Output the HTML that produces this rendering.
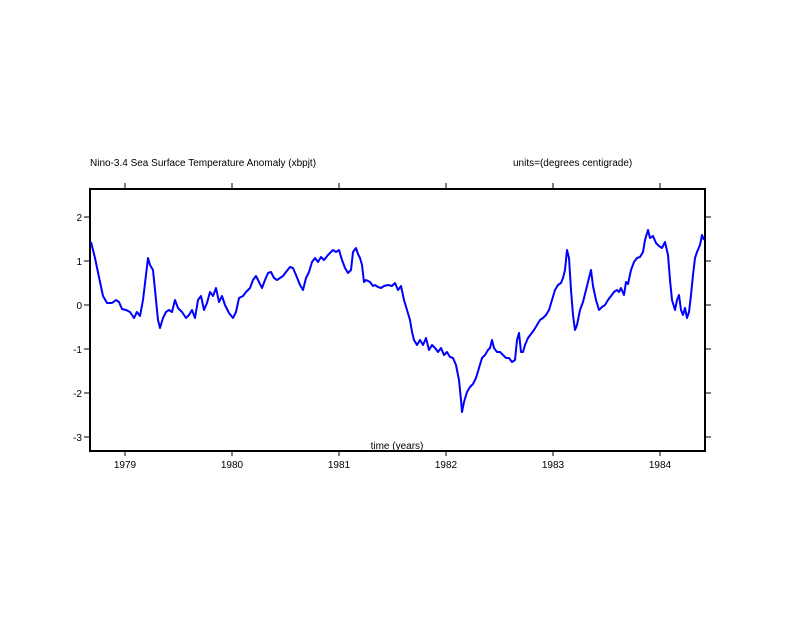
<!DOCTYPE html>
<html><head><meta charset="utf-8"><style>
body{margin:0;background:#fff;}
svg text{font-family:"Liberation Sans",sans-serif;font-size:10px;fill:#000;}
</style></head><body>
<svg width="792" height="612" viewBox="0 0 792 612" xmlns="http://www.w3.org/2000/svg">
<rect width="792" height="612" fill="#fff"/>
<text x="90" y="166">Nino-3.4 Sea Surface Temperature Anomaly (xbpjt)</text>
<text x="513" y="166">units=(degrees centigrade)</text>
<g stroke="#000" stroke-width="1">
<line x1="125" y1="183" x2="125" y2="189"/><line x1="232" y1="183" x2="232" y2="189"/>
<line x1="339" y1="183" x2="339" y2="189"/><line x1="446" y1="183" x2="446" y2="189"/>
<line x1="553" y1="183" x2="553" y2="189"/><line x1="660" y1="183" x2="660" y2="189"/>
<line x1="125" y1="451" x2="125" y2="456"/><line x1="232" y1="451" x2="232" y2="456"/>
<line x1="339" y1="451" x2="339" y2="456"/><line x1="446" y1="451" x2="446" y2="456"/>
<line x1="553" y1="451" x2="553" y2="456"/><line x1="660" y1="451" x2="660" y2="456"/>
<line x1="84" y1="217" x2="90" y2="217"/><line x1="84" y1="261" x2="90" y2="261"/>
<line x1="84" y1="305" x2="90" y2="305"/><line x1="84" y1="349" x2="90" y2="349"/>
<line x1="84" y1="393" x2="90" y2="393"/><line x1="84" y1="437" x2="90" y2="437"/>
<line x1="705" y1="217" x2="711" y2="217"/><line x1="705" y1="261" x2="711" y2="261"/>
<line x1="705" y1="305" x2="711" y2="305"/><line x1="705" y1="349" x2="711" y2="349"/>
<line x1="705" y1="393" x2="711" y2="393"/><line x1="705" y1="437" x2="711" y2="437"/>
</g>
<rect x="90" y="189" width="615" height="262" fill="none" stroke="#000" stroke-width="2"/>
<g text-anchor="end">
<text x="82" y="221">2</text><text x="82" y="265">1</text><text x="82" y="309">0</text>
<text x="82" y="353">-1</text><text x="82" y="397">-2</text><text x="82" y="441">-3</text>
</g>
<g text-anchor="middle">
<text x="125" y="468">1979</text><text x="232" y="468">1980</text><text x="339" y="468">1981</text>
<text x="446" y="468">1982</text><text x="553" y="468">1983</text><text x="660" y="468">1984</text>
<text x="397" y="449">time (years)</text>
</g>
<polyline fill="none" stroke="#0000ff" stroke-width="2" stroke-linejoin="round" points="
91,242 95,258 100,282 103,296 107,303 112,303 116,300 119,302 122,309 126,310 130,312 134,318 137,312 140,316 143,300 146,275 148,258 150,265 153,270 155,290 158,320 160,328 163,318 166,312 169,310 172,312 175,300 178,308 182,312 186,318 189,315 192,310 195,318 198,300 201,296 204,310 207,303 210,292 213,296 216,288 219,302 222,296 225,305 229,313 233,318 236,312 239,298 243,296 246,292 250,288 253,280 256,276 259,282 262,288 265,280 268,273 271,272 274,278 277,280 280,278 283,276 286,272 290,267 293,268 296,275 300,285 303,290 306,278 309,272 312,262 315,258 318,262 321,257 324,260 328,255 333,250 336,252 339,250 342,260 345,268 348,273 351,270 353,252 356,248 358,254 360,258 362,265 364,282 366,280 370,282 373,286 375,285 378,287 381,288 384,286 388,285 392,286 395,283 398,290 401,286 404,300 407,310 410,320 412,332 414,340 417,345 420,340 423,345 426,338 429,350 432,345 435,348 438,352 441,348 444,355 447,352 450,357 453,358 456,365 459,380 461,400 462,412 464,402 467,392 470,387 473,384 476,378 479,368 482,358 485,355 488,350 490,348 492,340 494,348 497,352 500,352 503,355 506,358 509,358 512,362 515,360 517,340 519,333 521,352 523,352 525,345 528,338 531,334 534,330 537,325 540,320 543,318 546,315 549,310 552,300 555,290 558,285 561,283 563,278 565,270 567,250 569,258 571,290 573,315 575,330 577,325 580,310 583,302 586,290 589,278 591,270 593,286 596,300 599,310 602,307 605,305 608,300 611,296 614,292 617,290 619,292 621,288 624,295 626,282 628,284 631,270 634,262 637,258 640,257 643,252 645,240 648,230 650,238 653,236 656,243 659,246 662,248 665,242 668,255 670,280 672,300 675,310 677,300 679,295 681,310 683,315 685,308 687,318 689,312 691,295 693,275 695,258 697,252 700,245 702,235 704,240"/>
</svg>
</body></html>
